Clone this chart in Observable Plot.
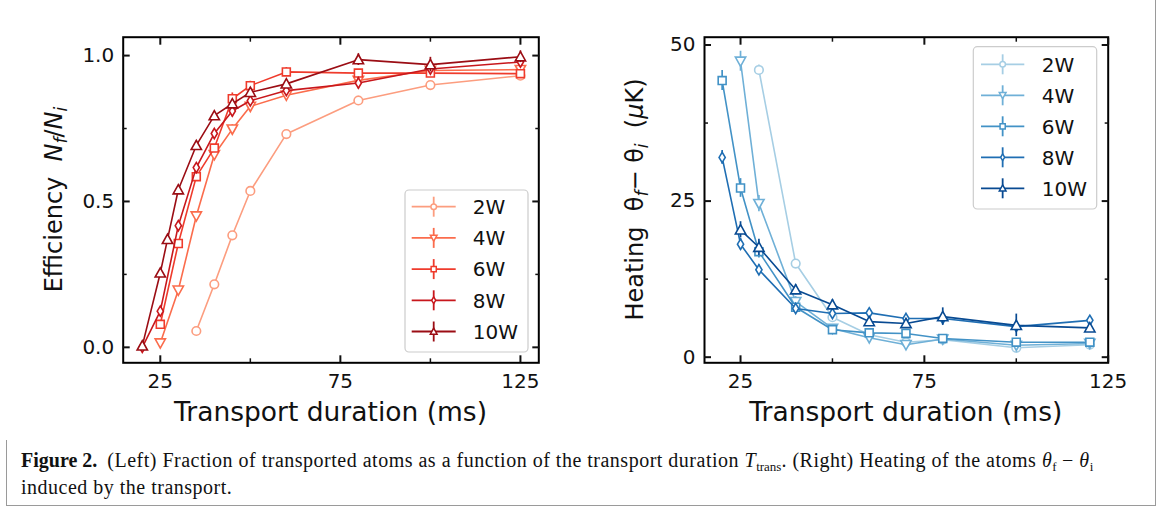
<!DOCTYPE html>
<html><head><meta charset="utf-8">
<script src="https://cdn.jsdelivr.net/npm/d3@7"></script>
<script src="https://cdn.jsdelivr.net/npm/@observablehq/plot@0.6"></script>
<style>
body{margin:0;background:#fff;}
#fig{position:relative;width:1163px;height:513px;overflow:hidden;background:#fff;}
#border{position:absolute;left:6px;top:-4px;width:1150px;height:510px;border:1.5px solid #9a9a9a;box-sizing:border-box;}
.panel{position:absolute;top:0;}
#caption{position:absolute;left:21px;top:448px;font-family:"Liberation Serif",serif;font-size:20px;line-height:24px;white-space:nowrap;color:#111;}
#caption .txt{letter-spacing:0.5px;}
#caption .sub{font-size:13px;position:relative;top:4px;letter-spacing:0;}
</style></head><body>
<div id="fig">
  <div id="border"></div>
  <div id="left" class="panel" style="left:0px"></div>
  <div id="right" class="panel" style="left:580px"></div>
  <div id="caption"><b>Figure 2.</b>&nbsp;&nbsp;<span class="txt">(Left) Fraction of transported atoms as a function of the transport duration <i>T</i><span class="sub">trans</span>. (Right) Heating of the atoms <i>θ</i><span class="sub">f</span> − <i>θ</i><span class="sub">i</span><br>induced by the transport.</span></div>
</div>
<script>
// ---------- data ----------
const powers = ["2W", "4W", "6W", "8W", "10W"];
const redColors = ["#fc9d7f", "#fb6c4c", "#ef3b2c", "#c8171c", "#9b0d14"];
const blueColors = ["#a6cee4", "#6fb0d7", "#4292c6", "#1f6eb3", "#084a92"];

// Efficiency N_f/N_i (left)
const eff2W_t = [35, 40, 45, 50, 60, 80, 100, 125];
const eff2W = [0.056, 0.216, 0.384, 0.536, 0.731, 0.846, 0.899, 0.931];
const eff2W_err = [0.008, 0.01, 0.01, 0.01, 0.01, 0.015, 0.012, 0.012];
const eff4W_t = [25, 30, 35, 40, 45, 50, 60, 80, 100, 125];
const eff4W = [0.015, 0.196, 0.45, 0.66, 0.748, 0.826, 0.864, 0.915, 0.949, 0.952];
const eff4W_err = [0.01, 0.01, 0.012, 0.012, 0.015, 0.015, 0.012, 0.012, 0.012, 0.015];
const eff6W_t = [25, 30, 35, 40, 45, 50, 60, 80, 100, 125];
const eff6W = [0.079, 0.356, 0.585, 0.683, 0.852, 0.897, 0.944, 0.94, 0.94, 0.938];
const eff6W_err = [0.01, 0.012, 0.012, 0.012, 0.02, 0.015, 0.015, 0.012, 0.012, 0.012];
const eff8W_t = [20, 25, 30, 35, 40, 45, 50, 60, 80, 100, 125];
const eff8W = [0.0, 0.124, 0.417, 0.616, 0.733, 0.81, 0.845, 0.88, 0.906, 0.954, 0.978];
const eff8W_err = [0.01, 0.01, 0.012, 0.012, 0.012, 0.02, 0.015, 0.012, 0.02, 0.015, 0.015];
const eff10W_t = [20, 25, 27, 30, 35, 40, 45, 50, 60, 80, 100, 125];
const eff10W = [0.005, 0.255, 0.37, 0.54, 0.692, 0.794, 0.835, 0.874, 0.903, 0.986, 0.969, 0.996];
const eff10W_err = [0.008, 0.01, 0.01, 0.012, 0.015, 0.01, 0.012, 0.015, 0.012, 0.02, 0.025, 0.02];

// Heating θf − θi in µK (right)
const heat2W_t = [30, 40, 50, 60, 70, 80, 100, 120];
const heat2W = [46.0, 15.0, 6.4, 3.6, 2.4, 2.8, 1.5, 2.0];
const heat2W_err = [0.8, 0.6, 0.5, 0.4, 0.4, 0.4, 0.4, 0.4];
const heat4W_t = [25, 30, 40, 50, 60, 70, 80, 100, 120];
const heat4W = [47.4, 24.6, 8.9, 4.6, 3.1, 2.0, 2.9, 1.9, 2.2];
const heat4W_err = [1.6, 1.3, 0.8, 0.5, 0.4, 0.4, 0.5, 0.4, 0.4];
const heat6W_t = [20, 25, 30, 40, 50, 60, 70, 80, 100, 120];
const heat6W = [44.3, 27.1, 16.9, 8.0, 4.4, 3.9, 3.8, 3.0, 2.4, 2.4];
const heat6W_err = [1.6, 1.5, 1.0, 0.6, 0.5, 0.4, 0.4, 0.5, 0.4, 0.4];
const heat8W_t = [20, 25, 30, 40, 50, 60, 70, 80, 100, 120];
const heat8W = [32.0, 18.1, 14.0, 7.8, 7.0, 7.1, 6.2, 6.2, 4.9, 5.9];
const heat8W_err = [1.1, 0.9, 0.8, 0.6, 0.6, 0.7, 0.6, 0.7, 0.8, 0.6];
const heat10W_t = [25, 30, 40, 50, 60, 70, 80, 100, 120];
const heat10W = [20.4, 17.6, 10.8, 8.4, 5.7, 5.4, 6.5, 5.1, 4.7];
const heat10W_err = [1.3, 1.3, 0.8, 0.8, 0.6, 0.7, 1.4, 1.8, 0.5];

// ticks
const xMajorTicks = [25, 75, 125];
const xMinorTicks = [50, 100];
const effMajorTicks = [0, 0.5, 1.0];
const effMinorTicks = [0.25, 0.75];
const heatMajorTicks = [0, 25, 50];
const heatMinorTicks = [12.5, 37.5];

// ---------- marker symbols (matplotlib-like) ----------
const symCircle = {draw(c, s) {const r = Math.sqrt(s / Math.PI); c.moveTo(r, 0); c.arc(0, 0, r, 0, 2 * Math.PI);}};
const symDown = {draw(c, s) {const r = Math.sqrt(s / Math.PI) * 1.2; c.moveTo(0, r); c.lineTo(-r, -r * 0.8); c.lineTo(r, -r * 0.8); c.closePath();}};
const symUp = {draw(c, s) {const r = Math.sqrt(s / Math.PI) * 1.2; c.moveTo(0, -r); c.lineTo(r, r * 0.8); c.lineTo(-r, r * 0.8); c.closePath();}};
const symSquare = {draw(c, s) {const r = Math.sqrt(s / Math.PI) * 0.92; c.moveTo(-r, -r); c.lineTo(r, -r); c.lineTo(r, r); c.lineTo(-r, r); c.closePath();}};
const symThinDiamond = {draw(c, s) {const r = Math.sqrt(s / Math.PI) * 1.2; c.moveTo(0, -r); c.lineTo(r * 0.6, 0); c.lineTo(0, r); c.lineTo(-r * 0.6, 0); c.closePath();}};
const symbols = [symCircle, symDown, symSquare, symThinDiamond, symUp];

function rows(key, t, v, e) { return t.map((x, i) => ({key, t: x, v: v[i], e: e[i]})); }

const effSeries = [
  rows("2W", eff2W_t, eff2W, eff2W_err),
  rows("4W", eff4W_t, eff4W, eff4W_err),
  rows("6W", eff6W_t, eff6W, eff6W_err),
  rows("8W", eff8W_t, eff8W, eff8W_err),
  rows("10W", eff10W_t, eff10W, eff10W_err)
];
const heatSeries = [
  rows("2W", heat2W_t, heat2W, heat2W_err),
  rows("4W", heat4W_t, heat4W, heat4W_err),
  rows("6W", heat6W_t, heat6W, heat6W_err),
  rows("8W", heat8W_t, heat8W, heat8W_err),
  rows("10W", heat10W_t, heat10W, heat10W_err)
];

const FONT = "DejaVu Sans";

function panel(cfg) {
  const marks = [];
  cfg.series.forEach((d, i) => {
    marks.push(Plot.ruleX(d, {x: "t", y1: r => r.v - r.e, y2: r => r.v + r.e, stroke: "key", strokeWidth: 1.7}));
    marks.push(Plot.line(d, {x: "t", y: "v", stroke: "key", strokeWidth: 1.6}));
    marks.push(Plot.dot(d, {x: "t", y: "v", stroke: "key", fill: "white", strokeWidth: 1.6, r: 4.3, symbol: symbols[i]}));
  });
  marks.push(Plot.frame({stroke: "black", strokeWidth: 2}));
  for (const anchor of ["bottom", "top"]) {
    marks.push(Plot.axisX(xMajorTicks, {anchor, tickSize: -7, strokeWidth: 2, tickFormat: () => "", label: null}));
    marks.push(Plot.axisX(xMinorTicks, {anchor, tickSize: -4, strokeWidth: 1.5, tickFormat: () => "", label: null}));
  }
  for (const anchor of ["left", "right"]) {
    marks.push(Plot.axisY(cfg.yMajor, {anchor, tickSize: -7, strokeWidth: 2, tickFormat: () => "", label: null}));
    marks.push(Plot.axisY(cfg.yMinor, {anchor, tickSize: -4, strokeWidth: 1.5, tickFormat: () => "", label: null}));
  }
  marks.push(Plot.axisX(xMajorTicks, {anchor: "bottom", tickSize: 0, tickPadding: 11, tickFormat: d => String(d), label: null}));
  marks.push(Plot.axisY(cfg.yMajor, {anchor: "left", tickSize: 0, tickPadding: 9, tickFormat: cfg.yFormat, label: null}));

  const svg = Plot.plot({
    width: 560, height: 440,
    marginLeft: cfg.ml, marginRight: cfg.mr, marginTop: 36.7, marginBottom: 77.7,
    x: {domain: cfg.xDomain},
    y: {domain: cfg.yDomain},
    color: {domain: powers, range: cfg.colors},
    style: {fontFamily: FONT, fontSize: "20px", color: "#111", background: "white", overflow: "visible"},
    marks
  });

  const s = d3.select(svg);
  const fx0 = cfg.ml, fx1 = 560 - cfg.mr, fy0 = 36.7, fy1 = 362.3;
  // x axis label
  s.append("text").attr("x", (fx0 + fx1) / 2).attr("y", 421).attr("text-anchor", "middle")
    .attr("font-family", FONT).attr("font-size", 26.5).attr("fill", "#111").text("Transport duration (ms)");
  // y axis label
  const yl = s.append("text").attr("transform", `translate(${cfg.ylx},${(fy0 + fy1) / 2}) rotate(-90)`)
    .attr("text-anchor", "middle").attr("font-family", FONT).attr("font-size", 24).attr("fill", "#111");
  cfg.ylabel.forEach(p => {
    const t = yl.append("tspan").text(p.t);
    if (p.it) t.attr("font-style", "italic");
    if (p.sub) t.attr("font-size", 17).attr("dy", 5);
    if (p.up) t.attr("dy", -5);
  });
  // legend
  const L = cfg.legend;
  const g = s.append("g").attr("text-anchor", "start");
  g.append("rect").attr("x", L.x).attr("y", L.y).attr("width", L.w).attr("height", L.h).attr("rx", 4)
    .attr("fill", "white").attr("fill-opacity", 0.85).attr("stroke", "#cccccc").attr("stroke-width", 1.2);
  powers.forEach((p, i) => {
    const cy = L.y + L.first + i * L.step;
    const col = cfg.colors[i];
    const x0 = L.x + L.lx0, x1 = L.x + L.lx1, xm = (x0 + x1) / 2;
    g.append("line").attr("x1", x0).attr("x2", x1).attr("y1", cy).attr("y2", cy).attr("stroke", col).attr("stroke-width", 1.8);
    g.append("line").attr("x1", xm).attr("x2", xm).attr("y1", cy - 10).attr("y2", cy + 10).attr("stroke", col).attr("stroke-width", 1.8);
    const path = d3.path();
    symbols[i].draw(path, Math.PI * 2.8 * 2.8);
    g.append("path").attr("d", path.toString()).attr("transform", `translate(${xm},${cy})`)
      .attr("fill", "white").attr("stroke", col).attr("stroke-width", 1.5);
    g.append("text").attr("x", L.x + L.tx).attr("y", cy).attr("dy", "0.36em").attr("font-family", FONT)
      .attr("text-anchor", "start").attr("font-size", 20).attr("fill", "#111").text(p);
  });
  return svg;
}

document.getElementById("left").append(panel({
  series: effSeries, colors: redColors,
  xDomain: [14.7, 130.1], yDomain: [-0.053, 1.063],
  yMajor: effMajorTicks, yMinor: effMinorTicks, yFormat: d3.format(".1f"),
  ml: 122.7, mr: 21.7, ylx: 62,
  ylabel: [{t: "Efficiency  "}, {t: "N", it: true}, {t: "f", it: true, sub: true}, {t: "/", up: true}, {t: "N", it: true}, {t: "i", it: true, sub: true}],
  legend: {x: 405, y: 190, w: 123, h: 162, first: 16.7, step: 31.2, lx0: 6.7, lx1: 50.7, tx: 67.7}
}));

document.getElementById("right").append(panel({
  series: heatSeries, colors: blueColors,
  xDomain: [15.2, 125], yDomain: [-0.9, 51.25],
  yMajor: heatMajorTicks, yMinor: heatMinorTicks, yFormat: d => String(d),
  ml: 124, mr: 32.3, ylx: 63,
  ylabel: [{t: "Heating  θ"}, {t: "f", it: true, sub: true}, {t: "− θ", up: true}, {t: "i", it: true, sub: true}, {t: "  (", up: true}, {t: "μ", it: true}, {t: "K)"}],
  legend: {x: 393.3, y: 46.7, w: 123.4, h: 162.3, first: 17.6, step: 31, lx0: 7.7, lx1: 51, tx: 68.4}
}));
</script>
</body></html>
